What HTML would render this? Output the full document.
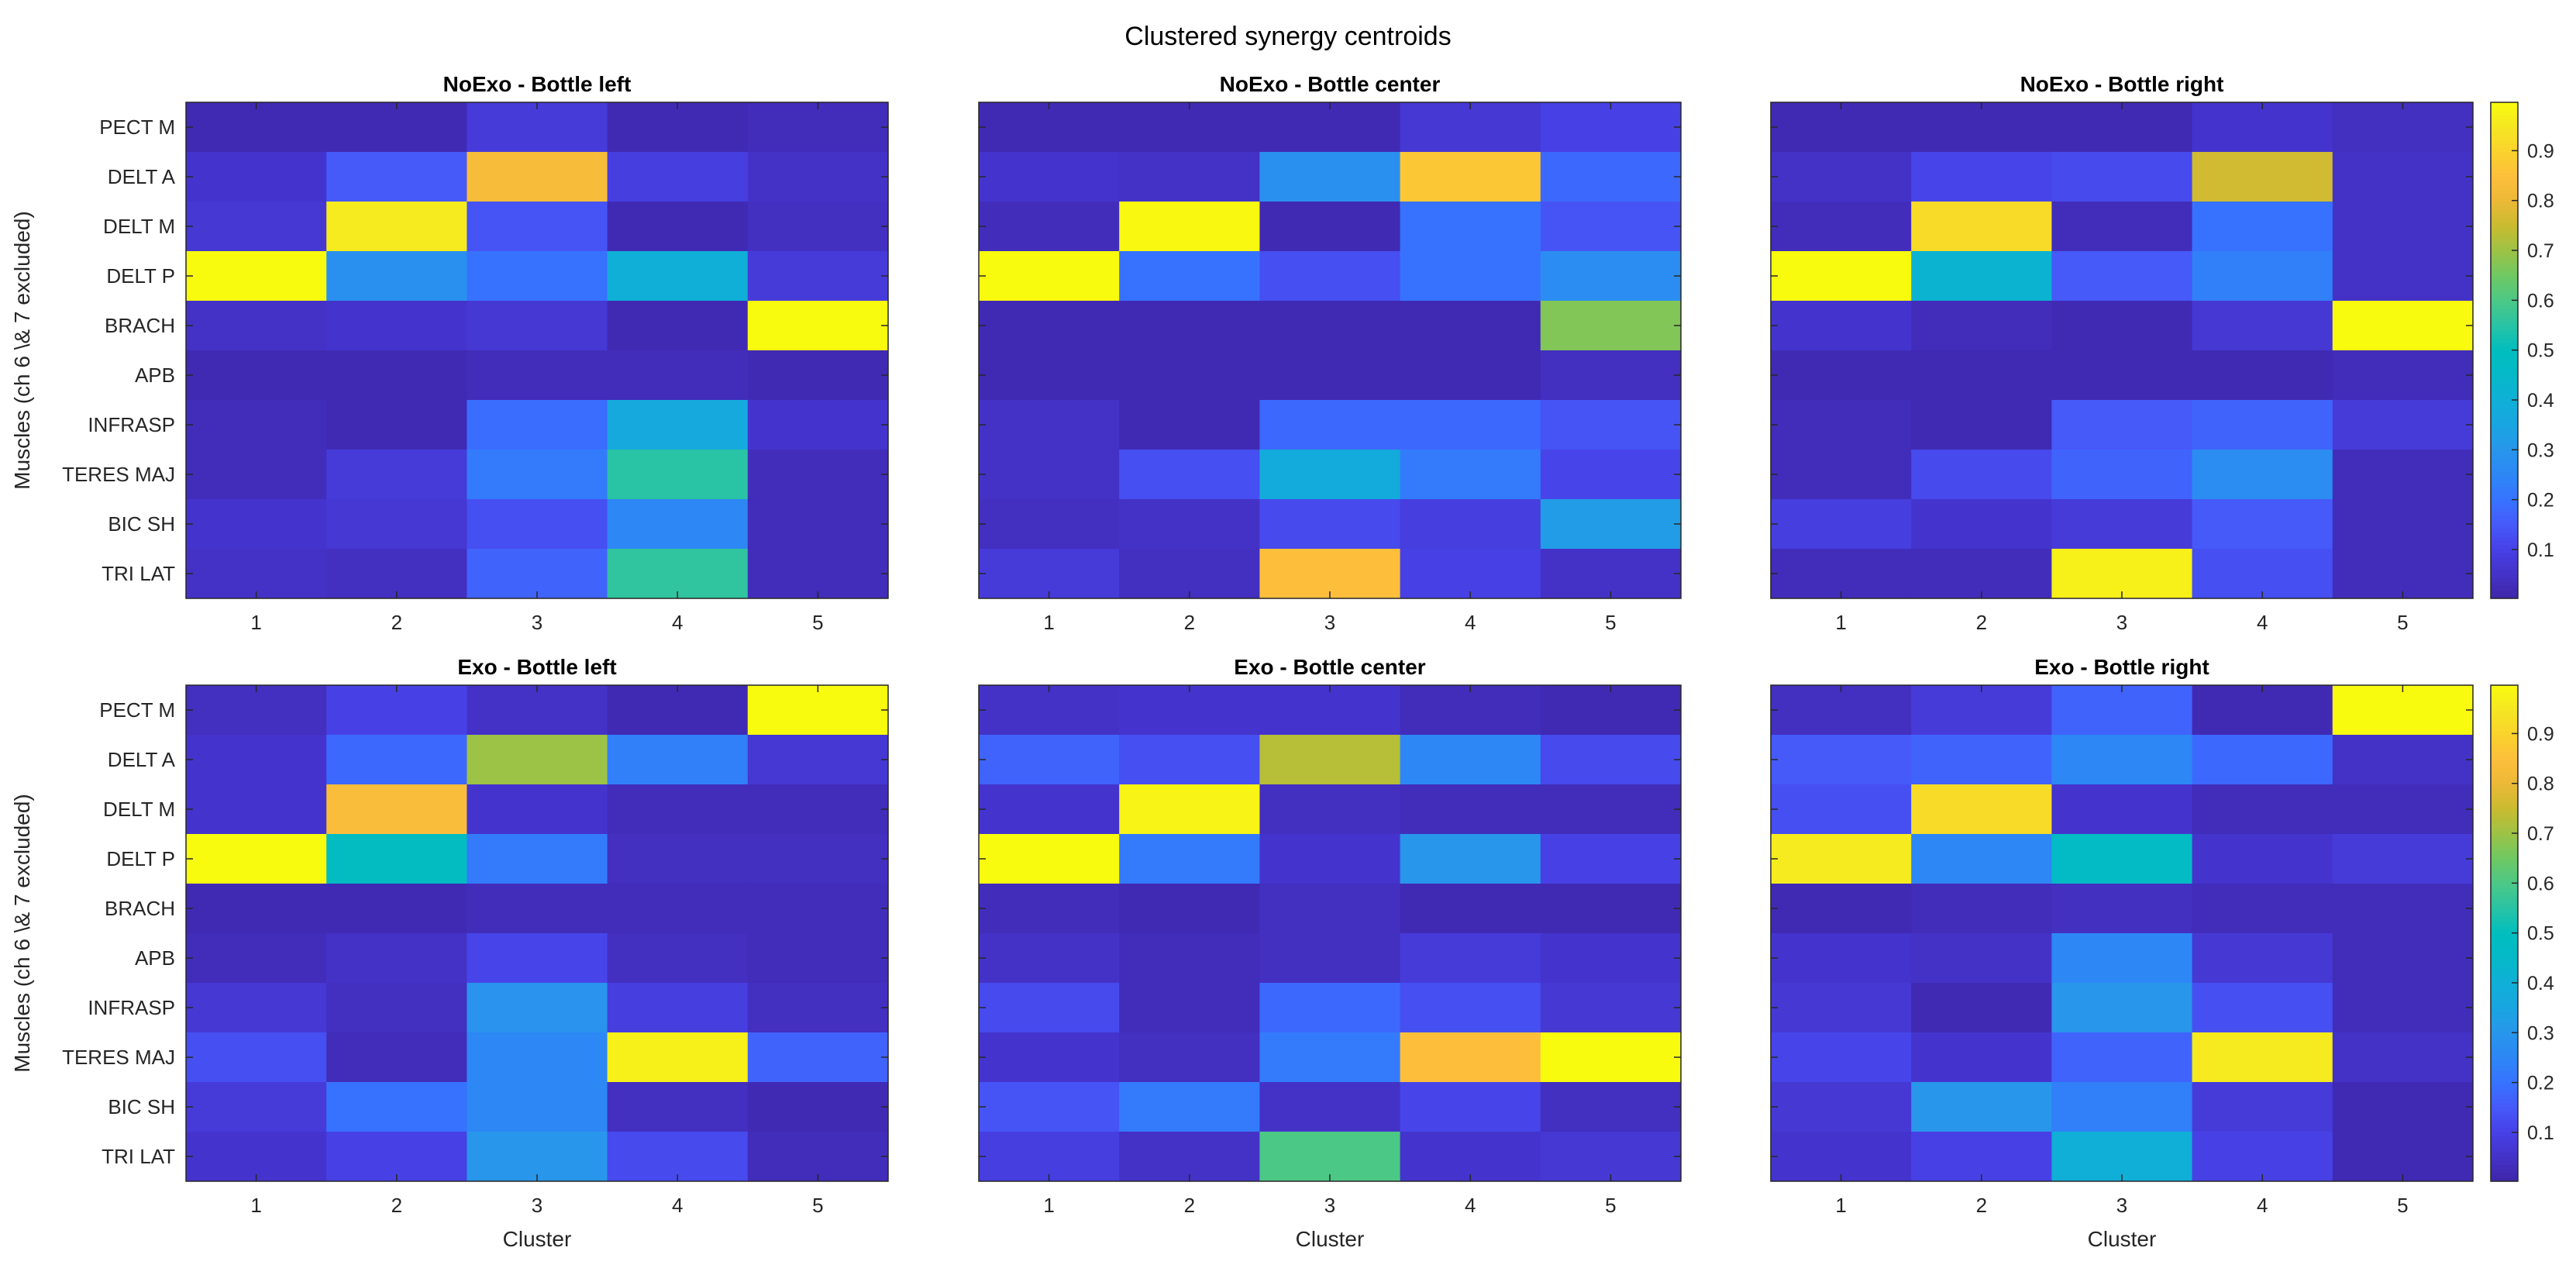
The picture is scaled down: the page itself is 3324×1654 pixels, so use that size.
<!DOCTYPE html>
<html><head><meta charset="utf-8"><style>
html,body{margin:0;padding:0;background:#fff;}
svg text{font-family:"Liberation Sans",sans-serif;fill:#262626;}
</style></head><body>
<svg id="fig" width="3324" height="1649" viewBox="0 0 3324 1649" xmlns="http://www.w3.org/2000/svg">
<rect width="3324" height="1649" fill="#fff"/>
<text x="1662" y="58" font-size="34" text-anchor="middle" style="fill:#000">Clustered synergy centroids</text>
</svg>
<script>
const muscles=["PECT M","DELT A","DELT M","DELT P","BRACH","APB","INFRASP","TERES MAJ","BIC SH","TRI LAT"];
const clusters=[1,2,3,4,5];
const cbTicks=[0.1,0.2,0.3,0.4,0.5,0.6,0.7,0.8,0.9];
const titles=["NoExo - Bottle left","NoExo - Bottle center","NoExo - Bottle right","Exo - Bottle left","Exo - Bottle center","Exo - Bottle right"];
const noexoLeft=[[.02,.02,.08,.02,.03],[.06,.15,.83,.09,.05],[.07,.96,.14,.02,.04],[1,.28,.2,.4,.08],[.05,.06,.07,.02,1],[.02,.02,.03,.03,.02],[.03,.02,.19,.37,.06],[.03,.08,.22,.55,.03],[.06,.07,.13,.25,.03],[.05,.04,.17,.56,.03]];
const noexoCenter=[[.02,.02,.02,.07,.1],[.06,.05,.28,.87,.18],[.03,.99,.02,.2,.14],[1,.2,.13,.2,.27],[.02,.02,.02,.02,.67],[.02,.02,.02,.02,.04],[.05,.02,.18,.18,.14],[.05,.13,.38,.22,.11],[.04,.05,.12,.09,.32],[.08,.04,.85,.1,.05]];
const noexoRight=[[.02,.02,.02,.06,.04],[.05,.11,.12,.76,.05],[.03,.92,.03,.2,.05],[1,.42,.15,.23,.05],[.06,.03,.02,.07,1],[.02,.02,.02,.02,.03],[.03,.02,.15,.17,.08],[.03,.12,.17,.27,.03],[.09,.06,.08,.15,.03],[.03,.03,.97,.13,.03]];
const exoLeft=[[.04,.1,.05,.02,1],[.06,.18,.7,.23,.07],[.06,.84,.06,.03,.03],[1,.48,.22,.04,.04],[.02,.02,.03,.03,.03],[.03,.05,.11,.04,.03],[.07,.04,.29,.09,.04],[.13,.03,.25,.97,.17],[.08,.2,.25,.04,.02],[.06,.1,.3,.12,.03]];
const exoCenter=[[.05,.06,.06,.03,.02],[.17,.13,.73,.25,.12],[.06,.98,.04,.03,.03],[1,.22,.06,.3,.1],[.03,.02,.04,.02,.02],[.05,.03,.04,.08,.06],[.12,.03,.18,.13,.07],[.06,.04,.22,.85,1],[.14,.22,.05,.11,.04],[.09,.05,.6,.06,.07]];
const exoRight=[[.04,.08,.17,.02,1],[.15,.17,.25,.18,.05],[.13,.92,.06,.03,.03],[.96,.25,.47,.06,.08],[.02,.03,.04,.03,.03],[.06,.05,.25,.07,.03],[.07,.02,.3,.13,.03],[.11,.06,.17,.96,.05],[.07,.3,.23,.08,.02],[.06,.1,.4,.1,.02]];
const panels=[noexoLeft,noexoCenter,noexoRight,exoLeft,exoCenter,exoRight];
const cmin=0.002,cmax=0.997;
const stops=[[62,38,168],[68,50,200],[71,65,230],[70,90,250],[55,115,255],[45,135,245],[40,150,235],[25,165,225],[15,175,215],[5,185,200],[0,190,190],[40,195,165],[75,200,135],[110,200,100],[155,195,70],[200,187,48],[235,185,55],[253,190,60],[250,210,45],[245,230,35],[249,251,14]];
function cmap(v){let t=(v-cmin)/(cmax-cmin);t=Math.max(0,Math.min(1,t));const p=t*(stops.length-1);const i=Math.min(Math.floor(p),stops.length-2);const f=p-i;const a=stops[i],b=stops[i+1];return `rgb(${a.map((c,k)=>Math.round(c+(b[k]-c)*f)).join(',')})`;}
const NS="http://www.w3.org/2000/svg";const svg=document.getElementById('fig');
function mk(tag,attrs,parent){const e=document.createElementNS(NS,tag);for(const k in attrs)e.setAttribute(k,attrs[k]);(parent||svg).appendChild(e);return e;}
const colX=[240,1263,2285],rowY=[132,884],W=906,H=640;
panels.forEach((data,p)=>{
  const x0=colX[p%3],y0=rowY[Math.floor(p/3)];
  const g=mk('g',{});
  
  
  const cw=W/clusters.length,rh=H/muscles.length;
  const xs=c=>x0+c*cw, ys=r=>y0+r*rh;
  data.forEach((row,r)=>row.forEach((v,c)=>{
    const cell=mk('rect',{x:xs(c),y:ys(r),width:cw+0.5,height:rh+0.5,fill:cmap(v)},g);
    
    
  }));
  mk('rect',{x:x0,y:y0,width:W,height:H,fill:'none',stroke:'#262626','stroke-width':1.5},g);
  clusters.forEach((cl,c)=>{const cx=xs(c)+cw/2;
    mk('line',{x1:cx,y1:y0,x2:cx,y2:y0+9,stroke:'#262626','stroke-width':1.5},g);
    mk('line',{x1:cx,y1:y0+H,x2:cx,y2:y0+H-9,stroke:'#262626','stroke-width':1.5},g);
    const t=mk('text',{x:cx,y:y0+H+40,'font-size':26,'text-anchor':'middle'},g);t.textContent=cl;
    
    
  });
  muscles.forEach((m,r)=>{const cy=ys(r)+rh/2;
    mk('line',{x1:x0,y1:cy,x2:x0+9,y2:cy,stroke:'#262626','stroke-width':1.5},g);
    mk('line',{x1:x0+W,y1:cy,x2:x0+W-9,y2:cy,stroke:'#262626','stroke-width':1.5},g);
    if(p%3===0){const t=mk('text',{x:x0-14,y:cy+9,'font-size':26,'text-anchor':'end'},g);t.textContent=m;
      
      }
  });
  const tt=mk('text',{x:x0+W/2,y:y0-14,'font-size':28,'font-weight':'bold','text-anchor':'middle',style:'fill:#000'},g);tt.textContent=titles[p];
  
  
  if(p%3===0){const yt=mk('text',{transform:`translate(${x0-202},${y0+H/2}) rotate(-90)`,'font-size':28,'text-anchor':'middle'},g);yt.textContent="Muscles (ch 6 \\& 7 excluded)";
    
    }
  if(p>=3){const xt=mk('text',{x:x0+W/2,y:y0+H+84,'font-size':28,'text-anchor':'middle'},g);xt.textContent="Cluster";
    
    }
  if(p%3===2){
    const cb=mk('g',{});
    
    
    const bx=3214,bw=35,n=120;
    for(let i=0;i<n;i++){const v=cmin+(cmax-cmin)*(i+0.5)/n;mk('rect',{x:bx,y:y0+H-(i+1)*H/n,width:bw,height:H/n+0.6,fill:cmap(v)},cb);}
    mk('rect',{x:bx,y:y0,width:bw,height:H,fill:'none',stroke:'#262626','stroke-width':1.5},cb);
    const yv=v=>y0+H-(v-cmin)/(cmax-cmin)*H;
    cbTicks.forEach(v=>{const yy=yv(v);
      mk('line',{x1:bx+bw-8,y1:yy,x2:bx+bw,y2:yy,stroke:'#262626','stroke-width':1.5},cb);
      const t=mk('text',{x:bx+bw+12,y:yy+9,'font-size':25},cb);t.textContent=v.toFixed(1);
      
      
    });
  }
});
</script>
</body></html>
